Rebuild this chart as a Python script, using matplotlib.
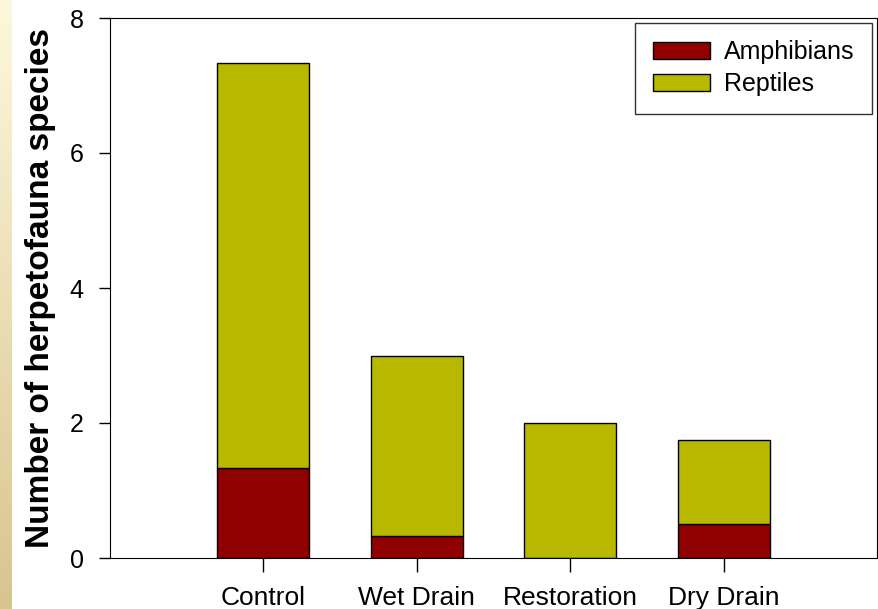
import numpy as np
import matplotlib
matplotlib.use("Agg")
import matplotlib.pyplot as plt
from matplotlib.colors import LinearSegmentedColormap

# Data
sites = ["Control", "Wet Drain", "Restoration", "Dry Drain"]
amphibians = [1.33, 0.33, 0.0, 0.5]
reptiles = [6.0, 2.67, 2.0, 1.25]

plt.rcParams['font.family'] = ['Liberation Sans', 'DejaVu Sans']

fig = plt.figure(figsize=(8.79, 6.09), dpi=100)

# beige gradient strip on the left edge
strip = fig.add_axes([0, 0, 12 / 879, 1])
cmap = LinearSegmentedColormap.from_list("strip", ["#fdf8dc", "#d9c48f"])
strip.imshow(np.linspace(0, 1, 100).reshape(-1, 1), aspect="auto", cmap=cmap)
strip.axis("off")

ax = fig.add_axes([110 / 879, 51 / 609, 767 / 879, 540 / 609])
x = np.arange(1, len(sites) + 1)
ax.bar(x, amphibians, width=0.6, color="#900000", edgecolor="black",
       linewidth=1, label="Amphibians")
ax.bar(x, reptiles, width=0.6, bottom=amphibians, color="#b8b800",
       edgecolor="black", linewidth=1, label="Reptiles")

ax.set_xlim(0, 5)
ax.set_ylim(0, 8)
ax.set_yticks([0, 2, 4, 6, 8])
ax.set_xticks(x)
ax.set_xticklabels(sites)
ax.tick_params(axis="y", labelsize=18, length=8, width=1, direction="out", pad=11)
ax.tick_params(axis="x", labelsize=19, length=10, width=1, direction="out", pad=10)
ax.set_ylabel("Number of herpetofauna species", fontsize=24, fontweight="bold",
              labelpad=10)

leg = ax.legend(loc="upper right", fontsize=18, frameon=True, fancybox=False,
                edgecolor="black", borderpad=0.7, handlelength=2.3,
                handleheight=0.65, handletextpad=0.55, labelspacing=0.3,
                borderaxespad=0.2)
leg.get_frame().set_linewidth(1)

fig.savefig("out.png", dpi=100)
